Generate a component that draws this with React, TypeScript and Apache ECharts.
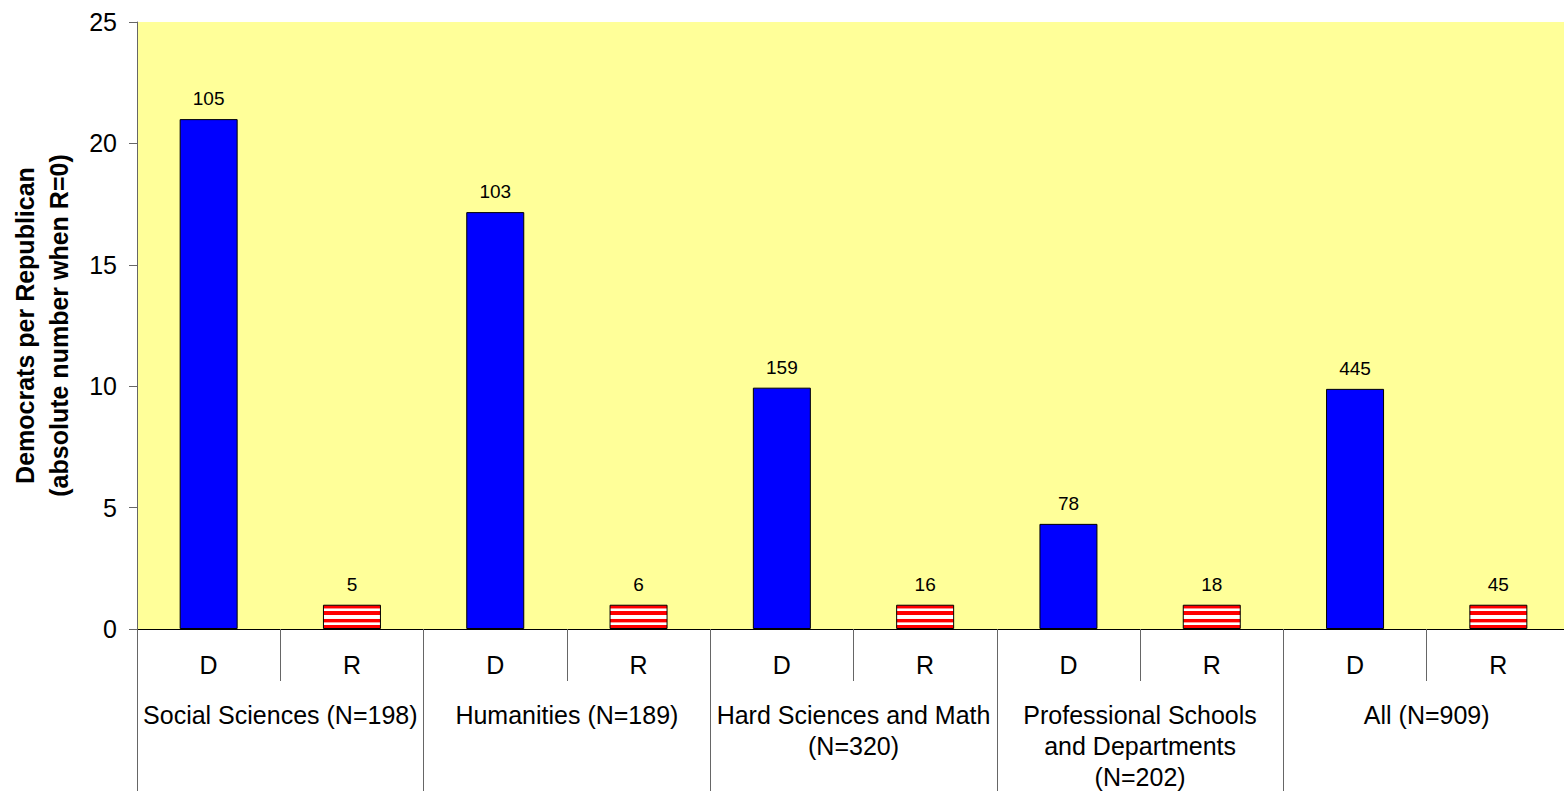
import React, { useEffect, useRef } from "react";
import * as echarts from "echarts";

const groups = [
  "Social Sciences (N=198)",
  "Humanities (N=189)",
  "Hard Sciences and Math\n(N=320)",
  "Professional Schools\nand Departments\n(N=202)",
  "All (N=909)",
];
const parties = ["D", "R"];
// Democrats per Republican (R bars = 1)
const ratios = [21.0, 1, 17.17, 1, 9.94, 1, 4.33, 1, 9.89, 1];
// absolute counts shown above bars
const counts = [105, 5, 103, 6, 159, 16, 78, 18, 445, 45];
const yTicks = { min: 0, max: 25, interval: 5 };

const FONT = "'Liberation Sans', Arial, sans-serif";

export default function App() {
  const ref = useRef<HTMLDivElement>(null);
  useEffect(() => {
    document.body.style.margin = "0";
    if (!ref.current) return;
    const chart = echarts.init(ref.current, null, { renderer: "svg" });

    const stripe = new echarts.graphic.LinearGradient(0, 0, 0, 1, [
      { offset: 0, color: "#ff0000" },
      { offset: 0.13, color: "#ff0000" },
      { offset: 0.15, color: "#ffffff" },
      { offset: 0.25, color: "#ffffff" },
      { offset: 0.27, color: "#ff0000" },
      { offset: 0.42, color: "#ff0000" },
      { offset: 0.44, color: "#ffffff" },
      { offset: 0.57, color: "#ffffff" },
      { offset: 0.59, color: "#ff0000" },
      { offset: 0.73, color: "#ff0000" },
      { offset: 0.75, color: "#ffffff" },
      { offset: 0.85, color: "#ffffff" },
      { offset: 0.87, color: "#ff0000" },
      { offset: 1, color: "#ff0000" },
    ]);

    const catKeys = groups.flatMap((_, gi) => parties.map((p) => `${p}#${gi}`));

    const data = ratios.map((v, i) => ({
      value: v,
      itemStyle: {
        color: i % 2 === 0 ? "#0000ff" : stripe,
        borderColor: "#000",
        borderWidth: 1,
      },
      label: { formatter: String(counts[i]) },
    }));

    chart.setOption({
      animation: false,
      textStyle: { fontFamily: FONT },
      grid: {
        left: 137,
        top: 22,
        right: 0,
        bottom: 162,
        show: true,
        backgroundColor: "#ffff99",
        borderWidth: 0,
      },
      xAxis: [
        {
          type: "category",
          data: catKeys,
          position: "bottom",
          axisLine: { show: true, lineStyle: { color: "#000", width: 1 } },
          axisTick: { show: true, interval: 0, length: 52, lineStyle: { color: "#666" } },
          axisLabel: {
            interval: 0,
            margin: 23,
            fontSize: 25,
            color: "#000",
            fontFamily: FONT,
            formatter: (v: string) => v.split("#")[0],
          },
          splitLine: { show: false },
        },
        {
          type: "category",
          data: groups,
          position: "bottom",
          gridIndex: 0,
          axisLine: { show: false },
          axisTick: { show: true, interval: 0, length: 162, lineStyle: { color: "#666" } },
          axisLabel: {
            interval: 0,
            margin: 70,
            fontSize: 25,
            lineHeight: 31,
            color: "#000",
            fontFamily: FONT,
          },
          splitLine: { show: false },
        },
      ],
      yAxis: {
        type: "value",
        min: yTicks.min,
        max: yTicks.max,
        interval: yTicks.interval,
        name: "Democrats per Republican\n(absolute number when R=0)",
        nameLocation: "middle",
        nameGap: 61,
        nameTextStyle: {
          fontSize: 25,
          fontWeight: "bold",
          lineHeight: 34,
          color: "#000",
          fontFamily: FONT,
        },
        axisLine: { show: true, lineStyle: { color: "#666" } },
        axisTick: { show: true, length: 8, lineStyle: { color: "#666" } },
        axisLabel: { fontSize: 25, color: "#000", margin: 20, fontFamily: FONT },
        splitLine: { show: false },
      },
      series: [
        {
          type: "bar",
          xAxisIndex: 0,
          data,
          barWidth: 58,
          label: {
            show: true,
            position: "top",
            distance: 11,
            fontSize: 19,
            color: "#000",
            fontFamily: FONT,
          },
        },
      ],
    });
    return () => chart.dispose();
  }, []);
  return (
    <div style={{ width: 1564, height: 792, overflow: "hidden" }}>
      <div ref={ref} style={{ width: 1570, height: 792 }} />
    </div>
  );
}
